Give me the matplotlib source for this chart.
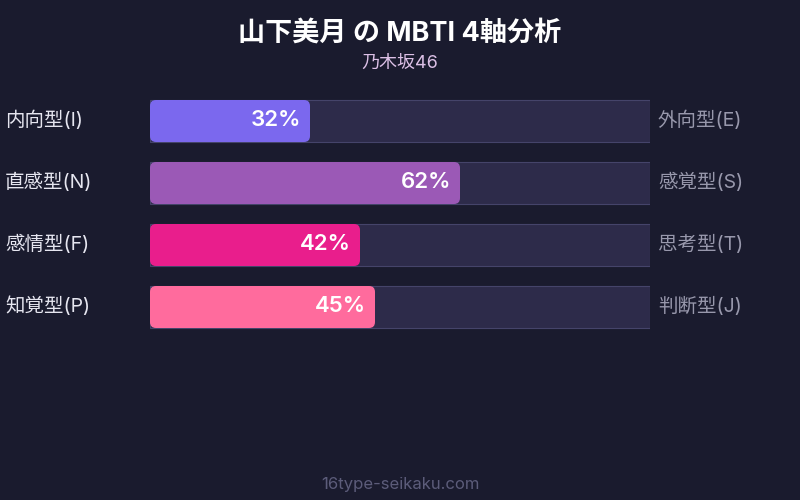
import matplotlib.pyplot as plt
from matplotlib.patches import FancyBboxPatch, Rectangle

fam = ['Inter', 'Noto Sans CJK JP', 'DejaVu Sans']
plt.rcParams['font.family'] = fam

title = '山下美月 の MBTI 4軸分析'
subtitle = '乃木坂46'
footer = '16type-seikaku.com'
left_labels = ['内向型(I)', '直感型(N)', '感情型(F)', '知覚型(P)']
right_labels = ['外向型(E)', '感覚型(S)', '思考型(T)', '判断型(J)']
values = [32, 62, 42, 45]
colors = ['#7b68ee', '#9b59b6', '#e91e8c', '#ff6b9d']

bg = '#1a1b2e'
fig = plt.figure(figsize=(8, 5), dpi=100, facecolor=bg)

# bars axes: x 150..650 px, y 90..338 px (62 px per row)
ax = fig.add_axes([150 / 800, 1 - 338 / 500, 500 / 800, 248 / 500])
ax.set_xlim(0, 100)
ax.set_ylim(3.5, -0.5)
ax.axis('off')

h = 42 / 62
px_x = 500 / 100
px_y = 62
r = 6 / px_x
for i, (v, c) in enumerate(zip(values, colors)):
    ax.add_patch(Rectangle((0, i - h / 2), 100, h, facecolor='#2d2b4a',
                           edgecolor='#45446a', linewidth=0.8))
    ax.add_patch(FancyBboxPatch((0, i - h / 2), v, h,
                                boxstyle='round,pad=0,rounding_size=%f' % r,
                                mutation_aspect=px_x / px_y,
                                facecolor=c, edgecolor='none'))
    ax.text(v - 1.8, i - 0.02, '%d%%' % v, ha='right', va='center', color='white',
            fontsize=16, fontweight='semibold')
    fig.text(5 / 800, 1 - (120 + 62 * i) / 500, left_labels[i], ha='left', va='center',
             color='#e6e6f0', fontsize=14)
    fig.text(658 / 800, 1 - (120 + 62 * i) / 500, right_labels[i], ha='left', va='center',
             color='#9898ac', fontsize=14)

fig.text(0.5, 1 - 34 / 500, title, ha='center', va='center', color='white',
         fontsize=19.5, fontweight='bold')
fig.text(0.5, 1 - 63 / 500, subtitle, ha='center', va='center', color='#dcc0e6',
         fontsize=13)
fig.text(0.5, 1 - 484 / 500, footer, ha='center', va='center', color='#5c5c7a',
         fontsize=12)

fig.savefig('out.png', facecolor=bg)
